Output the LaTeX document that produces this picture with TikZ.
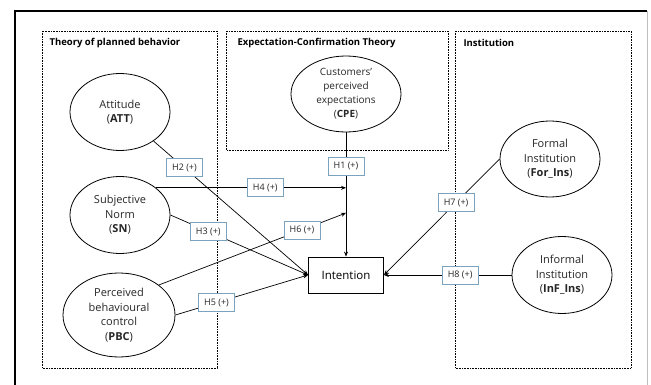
\documentclass[tikz,border=0pt]{standalone}
\usepackage{fontspec}
\setmainfont{Open Sans}
\usetikzlibrary{shapes.geometric,arrows.meta}
\definecolor{lblblue}{HTML}{7BA3BD}
\definecolor{txtgray}{HTML}{262626}
\tikzset{
  construct/.style = {draw, ellipse, inner sep = 0pt, align = center, text = txtgray, line width = 0.8pt, font = \fontsize{11}{14.5}\selectfont},
  hyp/.style = {draw = lblblue, fill = white, minimum width = 36pt, minimum height = 18pt, inner sep = 0pt, text = txtgray, line width = 0.8pt, font = \fontsize{9}{10}\selectfont},
  theory/.style = {draw, densely dotted, line width = 0.6pt},
  theorytitle/.style = {anchor = west, font = \fontsize{9.5}{11}\selectfont\bfseries},
  link/.style = {line width = 0.7pt},
  linkarrow/.style = {line width = 0.7pt, -{Stealth[length = 5pt, width = 4pt]}}
}
\begin{document}
\begin{tikzpicture}[x = 1pt, y = -1pt]
    \useasboundingbox (0, 0) rectangle (651, 385);
    % outer frame
    \draw [line width = 1.4pt] (15, 385) -- (15, 11) -- (647, 11);
    \draw [gray!50, line width = 0.8pt] (647, 11) -- (647, 385);
    % theory boxes
    \draw [theory] (42, 31) rectangle (217, 368);
    \draw [theory] (226, 31) rectangle (448, 150);
    \draw [theory] (455, 31) rectangle (631, 368);
    \node [theorytitle] (tpb) at (46, 43) {Theory of planned behavior};
    \node [theorytitle] (ect) at (234, 43) {Expectation-Confirmation Theory};
    \node [theorytitle] (inst) at (460, 43) {Institution};
    % constructs
    \node [construct, minimum width = 100pt, minimum height = 77pt] (att) at (120, 112) {Attitude\\(\textbf{ATT})};
    \node [construct, minimum width = 100pt, minimum height = 77pt] (sn) at (120, 215) {Subjective\\Norm\\(\textbf{SN})};
    \node [construct, minimum width = 112pt, minimum height = 84pt] (pbc) at (119, 315) {Perceived\\behavioural\\control\\(\textbf{PBC})};
    \node [construct, minimum width = 110pt, minimum height = 76pt, font = \fontsize{10}{14}\selectfont] (cpe) at (346, 94) {Customers’\\perceived\\expectations\\(\textbf{CPE})};
    \node [construct, minimum width = 100pt, minimum height = 76pt] (forins) at (550, 159) {Formal\\Institution\\(\textbf{For\_Ins})};
    \node [construct, minimum width = 100pt, minimum height = 77pt] (infins) at (562, 275) {Informal\\Institution\\(\textbf{InF\_Ins})};
    \node [draw, line width = 0.8pt, minimum width = 75pt, minimum height = 36pt, inner sep = 0pt, font = \fontsize{11.5}{13}\selectfont] (int) at (346, 275) {Intention};
    % moderation points
    \coordinate (j4) at (sn.37 -| cpe.south);
    \coordinate (j6) at (cpe.south |- 0, 213);
    % hypotheses
    \draw [linkarrow] (cpe.south) -- (int.north) node [hyp, pos = 0.27] (h1) {H1 (+)};
    \draw [linkarrow] (att) -- (int.west) node [hyp, pos = 0.2] (h2) {H2 (+)};
    \draw [linkarrow] (sn.east) -- (int.west) node [hyp, pos = 0.275] (h3) {H3 (+)};
    \draw [linkarrow] (sn.37) -- (j4) node [hyp, pos = 0.575] (h4) {H4 (+)};
    \draw [linkarrow] (pbc.east) -- (int.west) node [hyp, pos = 0.31] (h5) {H5 (+)};
    \draw [linkarrow] (pbc.37) -- (j6) node [hyp, pos = 0.765] (h6) {H6 (+)};
    \draw [linkarrow] (forins.west) -- (int.east) node [hyp, pos = 0.376] (h7) {H7 (+)};
    \draw [linkarrow] (infins.west) -- (int.east) node [hyp, pos = 0.403] (h8) {H8 (+)};
\end{tikzpicture}
\end{document}
